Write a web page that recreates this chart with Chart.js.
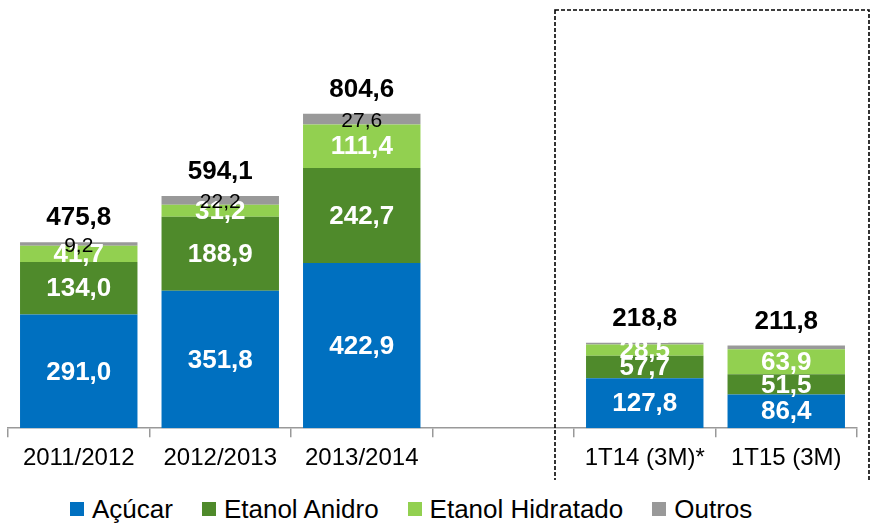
<!DOCTYPE html>
<html>
<head>
<meta charset="utf-8">
<script src="https://cdn.jsdelivr.net/npm/chart.js@4"></script>
<style>
  html, body { margin: 0; padding: 0; background: #fff; }
  #wrap { position: relative; width: 872px; height: 523px; font-family: "Liberation Sans", Arial, sans-serif; }
  #chartBox { position: absolute; left: 0; top: 0; width: 872px; height: 480px; }
  #legend { position: absolute; left: 70px; top: 496px; display: flex; align-items: center; font-size: 26px; line-height: 26px; color: #000; }
  #legend .item { display: flex; align-items: center; margin-right: 29px; }
  #legend .sq { width: 14px; height: 14px; margin-right: 8px; }
</style>
</head>
<body>
<div id="wrap">
  <div id="chartBox"><canvas id="chart"></canvas></div>
  <div id="legend"></div>
</div>
<script>
const categories = ['2011/2012', '2012/2013', '2013/2014', '', '1T14 (3M)*', '1T15 (3M)'];
const acucar = [291.0, 351.8, 422.9, null, 127.8, 86.4];
const etanolAnidro = [134.0, 188.9, 242.7, null, 57.7, 51.5];
const etanolHidratado = [41.7, 31.2, 111.4, null, 28.5, 63.9];
const outros = [9.2, 22.2, 27.6, null, 4.8, 10.0];
const totals = [475.8, 594.1, 804.6, null, 218.8, 211.8];
const showOutrosLabel = [true, true, true, false, false, false];

const seriesNames = ['Açúcar', 'Etanol Anidro', 'Etanol Hidratado', 'Outros'];
const seriesColors = ['#0070C0', '#4F8A2B', '#92D050', '#999999'];

function fmt(v) {
    return v.toFixed(1).replace('.', ',');
}

// data labels, totals and the dashed box around the quarterly bars
const labelsPlugin = {
    id: 'labels',
    afterDatasetsDraw(chart) {
        const ctx = chart.ctx;
        ctx.save();
        ctx.textAlign = 'center';
        ctx.textBaseline = 'middle';
        chart.data.datasets.forEach((ds, di) => {
            const meta = chart.getDatasetMeta(di);
            meta.data.forEach((bar, i) => {
                const v = ds.data[i];
                if (v == null) return;
                const mid = (bar.y + bar.base) / 2;
                if (di < 3) {
                    ctx.fillStyle = '#fff';
                    ctx.font = 'bold 26px "Liberation Sans", Arial, sans-serif';
                    ctx.fillText(fmt(v), bar.x, mid + 1);
                } else if (showOutrosLabel[i]) {
                    ctx.fillStyle = '#000';
                    ctx.font = '21px "Liberation Sans", Arial, sans-serif';
                    ctx.fillText(fmt(v), bar.x, mid + 2);
                }
            });
        });
        const top = chart.getDatasetMeta(3);
        ctx.fillStyle = '#000';
        ctx.font = 'bold 26px "Liberation Sans", Arial, sans-serif';
        top.data.forEach((bar, i) => {
            if (totals[i] == null) return;
            ctx.fillText(fmt(totals[i]), bar.x, bar.y - 24);
        });

        const x = chart.scales.x;
        const left = (x.getPixelForValue(3) + x.getPixelForValue(4)) / 2 - 19;
        ctx.strokeStyle = '#000';
        ctx.lineWidth = 1.6;
        ctx.setLineDash([4, 2]);
        ctx.strokeRect(left, 10, 869 - left, 474);
        ctx.restore();
    }
};

new Chart(document.getElementById('chart'), {
    type: 'bar',
    data: {
        labels: categories,
        datasets: [acucar, etanolAnidro, etanolHidratado, outros].map((d, i) => ({
            label: seriesNames[i],
            data: d,
            backgroundColor: seriesColors[i],
            borderWidth: 0,
            categoryPercentage: 1,
            barPercentage: 0.83
        }))
    },
    options: {
        responsive: true,
        maintainAspectRatio: false,
        animation: false,
        layout: { padding: { left: 8, right: 15, top: 10, bottom: 0 } },
        plugins: {
            legend: { display: false },
            tooltip: { enabled: false }
        },
        scales: {
            x: {
                stacked: true,
                grid: { offset: true, drawOnChartArea: false, drawTicks: true, tickLength: 9, color: '#999', lineWidth: 1.5 },
                border: { color: '#999', width: 1.5 },
                ticks: { color: '#000', font: { size: 24, family: '"Liberation Sans", Arial, sans-serif' }, padding: 7, maxRotation: 0, autoSkip: false }
            },
            y: {
                stacked: true,
                display: false,
                min: 0,
                max: 1070
            }
        }
    },
    plugins: [labelsPlugin]
});

document.getElementById('legend').innerHTML = seriesNames.map((n, i) =>
    `<div class="item"><div class="sq" style="background:${seriesColors[i]}"></div>${n}</div>`
).join('');
</script>
</body>
</html>
